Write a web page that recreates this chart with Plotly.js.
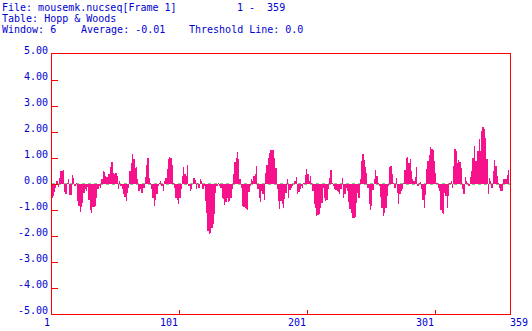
<!DOCTYPE html>
<html>
<head>
<meta charset="utf-8">
<script src="https://cdn.plot.ly/plotly-3.0.1.min.js"></script>
<style>html,body{margin:0;padding:0;background:#fff;}#chart{width:532px;height:331px;}</style>
</head>
<body>
<div id="chart"></div>
<script>
// Hopp & Woods hydrophilicity values, residues 1-359
var part1 = [-0.55,-0.45,-0.3,-0.15,0.1,-0.1,0.25,0.5,0.5,0.54,
-0.3,-0.38,0.05,0.18,-0.42,-0.42,0.35,0.25,-0.08,0.05,
-0.65,-0.85,-1.08,-0.9,-0.72,-0.33,-0.2,-0.25,-0.1,-0.6,
-1.0,-1.13,-0.9,-0.9,-0.85,-0.53,-0.2,-0.08,-0.15,0.18,
0.5,0.48,0.3,0.28,0.37,0.37,0.65,0.85,0.44,0.4,
0.44,0.3,-0.2,0.12,-0.08,-0.2,-0.37,-0.5,-0.65,-0.33,
-0.15,0.5,0.82,1.17,0.95,0.63,0.65,0.18,-0.25,-0.2,-0.33];
var part2 = [-0.33,-0.15,0.27,0.75,1.0,0.24,0.05,-0.2,-0.53,-0.85,
-0.6,-0.4,-0.08,0.05,0.12,-0.08,-0.27,0.12,0.22,0.56,
0.98,1.05,1.0,0.75,0.05,-0.17,-0.53,-0.63,-0.75,-0.53,
-0.2,0.3,0.67,0.37,0.3,0.75,-0.08,-0.27,-0.2,0.0,
0.24,0.14,-0.2,0.05,-0.14,0.18,0.11,-0.2,-0.08,-0.65,
-1.1,-1.8,-1.94,-1.9,-1.68,-1.55,-1.17,-0.33,-0.08,0.05,
-0.08,-0.14,-0.53,-0.59,-0.81,-0.7,-0.53,-0.68,-0.65,-0.53,
-0.2,0.4,0.85];
var part3 = [1.0,1.24,0.95,0.2,-0.14,-0.85,-0.88,-0.94,-0.98,-1.01,
-0.3,-0.08,0.18,0.12,0.3,0.37,0.69,-0.2,-0.53,-0.68,
-0.27,-0.4,-0.6,0.44,0.75,1.01,1.18,1.31,1.31,1.31,
1.01,0.63,-0.2,-0.65,-0.97,-0.65,-0.78,-0.91,-0.59,-0.33,
0.18,-0.53,-0.24,-0.14,-0.08,0.0,0.12,0.27,-0.4,-0.3,
-0.2,-0.08,-0.14,0.05,0.35,0.59,0.37,0.12,0.3,0.05,
-0.27,-0.75,-0.91,-1.23,-1.2,-1.17,-0.91,-0.72,-0.14,-0.53,
-0.65,-0.6];
var part4 = [-0.2,0.24,0.54,0.05,-0.08,-0.2,-0.24,-0.27,-0.3,-0.4,
-0.2,0.22,-0.53,-0.4,-0.14,-0.27,-0.69,-0.97,-1.1,-1.32,
-1.3,-1.27,-0.72,-0.33,-0.53,0.18,0.88,1.14,0.91,0.67,
0.44,-0.14,-0.78,-1.01,-0.85,-0.24,0.18,0.54,0.31,0.05,
-0.08,-0.5,-0.91,-1.23,-1.1,-0.91,-0.46,-0.08,0.65,0.69,
0.37,0.05,-0.14,0.24,-0.33,-0.75,-0.37,-0.27,-0.2,0.05,
0.53,1.01,1.05,0.82,0.97,0.5,0.2,0.12,0.27,0.67,
-0.08,0.05];
var part5 = [0.08,-0.2,-0.6,-0.94,-0.42,0.56,0.88,1.1,1.42,1.35,
1.29,0.88,0.44,0.05,-0.14,-0.27,-1.01,-1.1,-1.17,-0.33,
-0.46,-0.91,-0.46,0.05,0.12,-0.14,0.69,1.36,1.27,0.82,
0.92,0.85,0.63,-0.2,-0.4,0.27,0.12,0.05,-0.08,0.27,
0.5,1.01,1.46,0.88,0.88,1.27,1.72,1.27,2.04,2.19,
2.1,1.78,0.95,-0.37,0.24,0.12,-0.14,0.5,0.92,0.69,
0.31,0.05,-0.14,-0.27,-0.27,0.18,0.18,0.18,0.35,0.54,
0.01];

var xTickVals = [1, 101, 201, 301, 359];
var xTickText = ["1", "101", "201", "301", "359"];
var yTickVals = [-5,-4,-3,-2,-1,0,1,2,3,4,5];
var yTickText = ["-5.00","-4.00","-3.00","-2.00","-1.00","0.00","1.00","2.00","3.00","4.00","5.00"];
var threshold = 0.0;

var values = part1.concat(part2, part3, part4, part5);
var residues = [];
for (var i = 0; i < values.length; i++) residues.push(i + 1);

var blue = '#0000d0';
var red = '#ff0000';
var font = {family: 'DejaVu Sans Mono, monospace', size: 10, color: blue};

var annotations = [];
function hdr(text, px, py) {
  annotations.push({text: text, xref: 'paper', yref: 'paper', x: 0, y: 1,
    xshift: px - 52, yshift: 54 - py, xanchor: 'left', yanchor: 'middle',
    showarrow: false, font: font, borderpad: 0});
}
hdr('File: mousemk.nucseq[Frame 1]', 1, 7);
hdr('1 -  359', 236, 7);
hdr('Table: Hopp &amp; Woods', 1, 18);
hdr('Window: 6', 1, 29);
hdr('Average: -0.01', 80, 29);
hdr('Threshold Line: 0.0', 188, 29);
for (var k = 0; k < xTickVals.length; k++) {
  var last = k === xTickVals.length - 1;
  annotations.push({text: xTickText[k], xref: 'x', yref: 'paper', x: xTickVals[k], y: 0,
    yanchor: 'top', yshift: -2, xanchor: last ? 'left' : 'right', xshift: -1,
    showarrow: false, font: font, borderpad: 0});
}

var trace = {
  type: 'bar', x: residues, y: values, width: 1,
  marker: {color: '#f5128a', line: {width: 0}},
  hoverinfo: 'skip'
};

var layout = {
  width: 532, height: 331,
  margin: {l: 52, r: 22, t: 54, b: 17, pad: 0},
  paper_bgcolor: '#ffffff', plot_bgcolor: '#ffffff',
  showlegend: false, bargap: 0,
  xaxis: {range: [1, 359], showgrid: false, zeroline: false, showline: true, mirror: true,
    linecolor: red, linewidth: 1, ticks: 'inside', ticklen: 4, tickcolor: red, tickwidth: 1,
    tickvals: xTickVals, showticklabels: false, fixedrange: true},
  yaxis: {range: [-5, 5], showgrid: false, zeroline: false, showline: true, mirror: true,
    linecolor: red, linewidth: 1, ticks: 'inside', ticklen: 6, tickcolor: red, tickwidth: 1,
    tickvals: yTickVals, ticktext: yTickText, tickfont: font, ticklabelstandoff: 1,
    ticklabelshift: -4, fixedrange: true},
  shapes: [{type: 'line', xref: 'paper', x0: 0, x1: 1, yref: 'y', y0: threshold, y1: threshold,
    line: {color: '#00a000', width: 1, dash: 'dot'}, layer: 'below'}],
  annotations: annotations
};

Plotly.newPlot('chart', [trace], layout, {staticPlot: true, displayModeBar: false});
</script>
</body>
</html>
